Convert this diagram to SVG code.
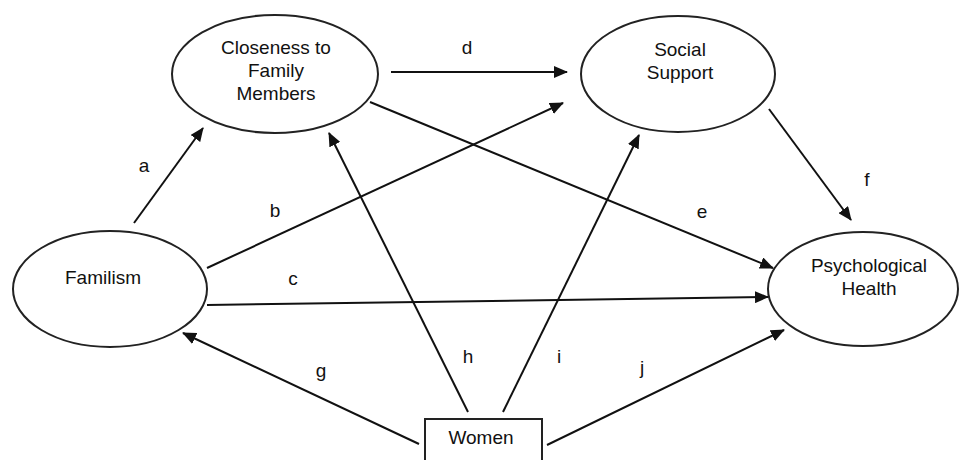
<svg xmlns="http://www.w3.org/2000/svg" width="961" height="460" viewBox="0 0 961 460">
<defs>
<marker id="arr" markerUnits="userSpaceOnUse" markerWidth="14" markerHeight="12" refX="13" refY="6" orient="auto">
<path d="M0,0 L14,6 L0,12 Z" fill="#111"/>
</marker>
<style>
.n{fill:#fff;stroke:#222;stroke-width:2}
.t{font-family:"Liberation Sans",Arial,sans-serif;font-size:19px;fill:#111;text-anchor:middle}
.c line{stroke:#111;stroke-width:2;marker-end:url(#arr)}
</style>
</defs>
<rect width="961" height="460" fill="#fff"/>
<g id="closeness">
<ellipse class="n" cx="275" cy="74" rx="103" ry="59"/>
<text class="t" x="276" y="54">Closeness to</text>
<text class="t" x="276" y="77">Family</text>
<text class="t" x="276" y="100">Members</text>
</g>
<g id="social">
<ellipse class="n" cx="678" cy="74" rx="97" ry="58"/>
<text class="t" x="680" y="56">Social</text>
<text class="t" x="680" y="79">Support</text>
</g>
<g id="familism">
<ellipse class="n" cx="110" cy="289" rx="97" ry="58"/>
<text class="t" x="103" y="284">Familism</text>
</g>
<g id="psych">
<ellipse class="n" cx="863" cy="289" rx="95" ry="57"/>
<text class="t" x="869" y="272">Psychological</text>
<text class="t" x="869" y="295">Health</text>
</g>
<g id="women">
<rect class="n" x="425" y="419" width="117" height="50"/>
<text class="t" x="481" y="444">Women</text>
</g>
<g id="connectors" class="c">
<line x1="134" y1="223" x2="203" y2="128"/>
<line x1="207" y1="268" x2="563" y2="103"/>
<line x1="207" y1="305" x2="768" y2="297"/>
<line x1="391" y1="72" x2="567" y2="72"/>
<line x1="370" y1="102" x2="773" y2="268"/>
<line x1="769" y1="109" x2="851" y2="220"/>
<line x1="419" y1="444" x2="183" y2="333"/>
<line x1="468" y1="412" x2="329" y2="133"/>
<line x1="503" y1="412" x2="639" y2="135"/>
<line x1="547" y1="445" x2="784" y2="330"/>
</g>
<g id="labels">
<text class="t" x="144" y="172">a</text>
<text class="t" x="275" y="217">b</text>
<text class="t" x="293" y="285">c</text>
<text class="t" x="467" y="54">d</text>
<text class="t" x="702" y="218">e</text>
<text class="t" x="867" y="186">f</text>
<text class="t" x="321" y="377">g</text>
<text class="t" x="468" y="363">h</text>
<text class="t" x="559" y="363">i</text>
<text class="t" x="642" y="374">j</text>
</g>
</svg>
